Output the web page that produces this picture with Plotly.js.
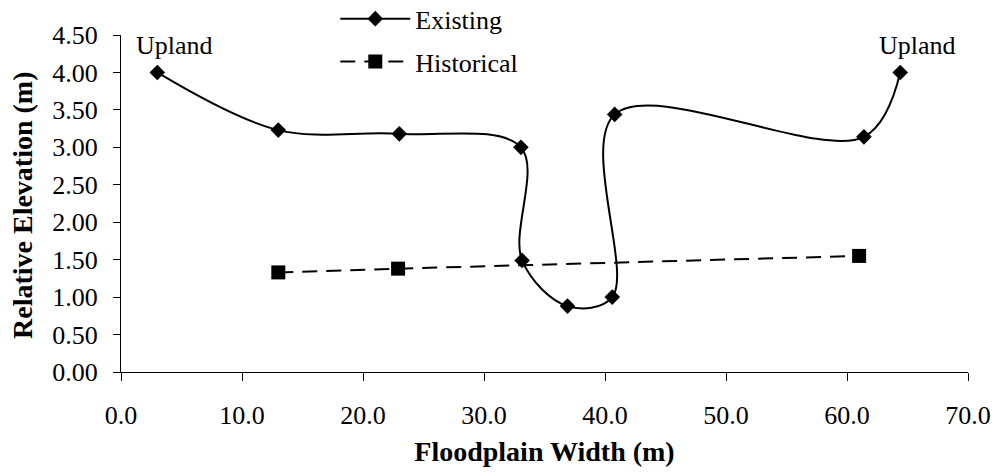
<!DOCTYPE html>
<html>
<head>
<meta charset="utf-8">
<script src="https://cdn.plot.ly/plotly-3.0.1.min.js"></script>
<style>html,body{margin:0;padding:0;background:#fff;}#chart{width:1001px;height:473px;}</style>
</head>
<body>
<div id="chart"></div>
<script>
// Data
const existingX = [3.0, 13.0, 23.0, 33.05, 33.15, 36.9, 40.6, 40.8, 61.4, 64.4];
const existingY = [4.00, 3.23, 3.18, 3.00, 1.49, 0.88, 1.00, 3.44, 3.14, 4.00];
const historicalX = [13.0, 22.9, 61.0];
const historicalY = [1.33, 1.38, 1.55];
const uplandLabels = ["Upland", "Upland"];
const uplandIdx = [0, 9];
const xTicks = [0, 10, 20, 30, 40, 50, 60, 70];
const yTicks = [0, 0.5, 1, 1.5, 2, 2.5, 3, 3.5, 4, 4.5];

const serif = "'Liberation Serif', 'Times New Roman', serif";

const traces = [
  {
    x: existingX, y: existingY, name: "Existing", type: "scatter", mode: "lines+markers",
    legendgroup: "a",
    line: {color: "#000", width: 2, shape: "spline", smoothing: 1},
    marker: {symbol: "diamond", size: 12, color: "#000"}
  },
  {
    x: historicalX, y: historicalY, name: "Historical", type: "scatter", mode: "lines+markers",
    legendgroup: "b",
    line: {color: "#000", width: 2, dash: "15px,9px"},
    marker: {symbol: "square", size: 14, color: "#000"}
  }
];

const annotations = uplandIdx.map((i, k) => ({
  x: existingX[i], y: existingY[i], xref: "x", yref: "y",
  text: uplandLabels[k], showarrow: false,
  xanchor: "center", yanchor: "middle", xshift: 17, yshift: 27,
  font: {family: serif, size: 26, color: "#000"}
}));
annotations.push({
  xref: "paper", yref: "paper", x: 0, y: 0.5,
  xshift: -98.5, yshift: -2,
  text: "<b>Relative Elevation (m)</b>", textangle: -90, showarrow: false,
  xanchor: "center", yanchor: "middle",
  font: {family: serif, size: 28, color: "#000"}
});

const layout = {
  width: 1001, height: 473,
  margin: {l: 120.5, r: 32.7, t: 34.8, b: 100.7, autoexpand: false},
  paper_bgcolor: "#fff", plot_bgcolor: "#fff",
  font: {family: serif, size: 26, color: "#000"},
  showlegend: true,
  legend: {
    x: 0.253, y: 1.118, xanchor: "left", yanchor: "top",
    itemwidth: 70,
    font: {family: serif, size: 26, color: "#000"},
    bgcolor: "rgba(0,0,0,0)", tracegroupgap: 6, traceorder: "grouped"
  },
  xaxis: {
    range: [0, 70], tickvals: xTicks, ticktext: xTicks.map(v => v.toFixed(1)),
    showline: true, linecolor: "#000", linewidth: 1, showgrid: false, zeroline: false,
    ticks: "outside", ticklen: 8, tickcolor: "#000", tickwidth: 1,
    ticklabelstandoff: 12,
    tickfont: {family: serif, size: 26, color: "#000"},
    title: {text: "<b>Floodplain Width (m)</b>", font: {family: serif, size: 28, color: "#000"}, standoff: 12}
  },
  yaxis: {
    range: [0, 4.5], tickvals: yTicks, ticktext: yTicks.map(v => v.toFixed(2)),
    showline: true, linecolor: "#000", linewidth: 1, showgrid: false, zeroline: false,
    ticks: "outside", ticklen: 7, tickcolor: "#000", tickwidth: 1,
    ticklabelstandoff: 10,
    tickfont: {family: serif, size: 26, color: "#000"}
  },
  annotations: annotations
};

Plotly.newPlot("chart", traces, layout, {displayModeBar: false, staticPlot: true});
</script>
</body>
</html>
